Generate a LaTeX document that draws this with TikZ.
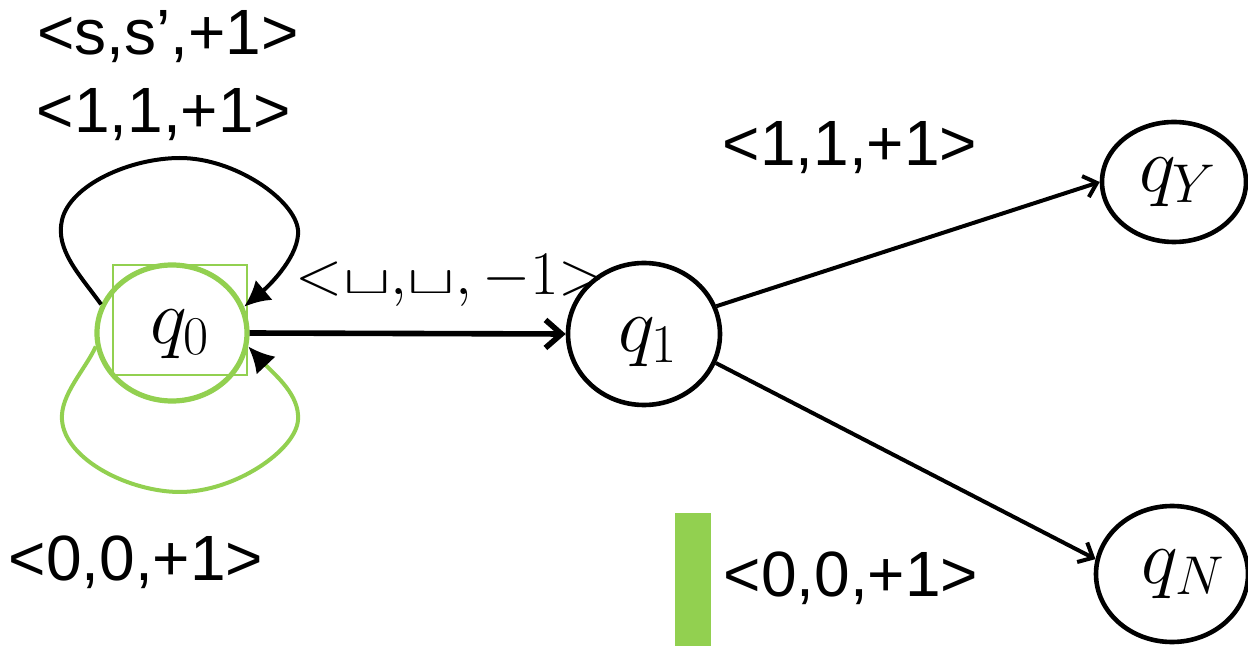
\documentclass[tikz,border=0pt]{standalone}
\usepackage{fix-cm}
\usepackage{graphicx}
\usepackage{fontspec}
\setmainfont{Liberation Sans}
\usetikzlibrary{shapes.geometric,arrows.meta}
\definecolor{leaf}{HTML}{92D050}
% flat open box used for the blank tape symbol
\newcommand{\blanksym}{\raisebox{0.02em}{\scalebox{1.15}[0.62]{$\sqcup$}}}
\begin{document}
\begin{tikzpicture}[x=0.5pt,y=-0.5pt,
  state/.style={ellipse, draw, line width=2.3pt, inner sep=0pt},
  lbl/.style={font=\fontsize{32}{38}\selectfont, inner sep=0pt},
  mathlbl/.style={font=\fontsize{39}{46}\selectfont, inner sep=0pt},
  edgelbl/.style={font=\fontsize{31}{38}\selectfont, inner sep=0pt},
  thinarrow/.style={line width=2pt, -{Straight Barb[length=6pt,width=11pt,line width=2pt]}},
  bigtip/.style={-{Latex[length=13pt,width=13pt,color=black]}}
]
\useasboundingbox (0,0) rectangle (1248,646);

% states
\node[state, draw=leaf, line width=2.6pt, minimum width=75pt, minimum height=68pt] (q0) at (172,333) {};
\node[draw=leaf, line width=0.7pt, minimum width=67pt, minimum height=55pt, inner sep=0pt] (q0box) at (180,320) {};
\node[mathlbl] (q0txt) at (180,334) {$q_0$};

\node[state, minimum width=76pt, minimum height=71pt] (q1) at (644,334) {};
\node[mathlbl] (q1txt) at (648,342) {$q_1$};

\node[state, minimum width=72pt, minimum height=60pt] (qY) at (1174,182) {};
\node[mathlbl] (qYtxt) at (1178,182) {$q_Y$};

\node[state, minimum width=76pt, minimum height=68pt] (qN) at (1172,574) {};
\node[mathlbl] (qNtxt) at (1183,574) {$q_N$};

% transition labels
\node[lbl] (lss) at (168,37) {<s,s’,+1>};
\node[lbl] (l11a) at (164,115) {<1,1,+1>};
\node[lbl] (l11b) at (850,148) {<1,1,+1>};
\node[lbl] (l00a) at (136,562) {<0,0,+1>};
\node[lbl] (l00b) at (851,578) {<0,0,+1>};
\node[edgelbl] (lblank) at (451,281) {$\mathord{<}\blanksym{,}\blanksym, -1\mathord{>}$};

% marker bar
\fill[leaf] (675,513) rectangle (711,646);

% transitions
\draw[line width=2.8pt, -{Straight Barb[length=8pt,width=14pt,line width=2.8pt]}] (q0.east) -- (q1.west);
\draw[thinarrow] (q1.21) -- (qY.west);
\draw[thinarrow] (q1.-22) -- (qN.169);

% self loops on q0
\draw[line width=2pt, bigtip] (q0.158) .. controls (80,275) and (55,250) .. (62,220)
  .. controls (70,185) and (130,158) .. (180,158)
  .. controls (235,158) and (295,200) .. (298,230)
  .. controls (300,255) and (270,285) .. (q0.20);
\draw[leaf, line width=2pt, bigtip] (q0.190) .. controls (85,370) and (60,395) .. (62,420)
  .. controls (65,460) and (130,492) .. (180,492)
  .. controls (235,492) and (296,450) .. (298,420)
  .. controls (300,395) and (275,375) .. (q0.-10);
\end{tikzpicture}
\end{document}
